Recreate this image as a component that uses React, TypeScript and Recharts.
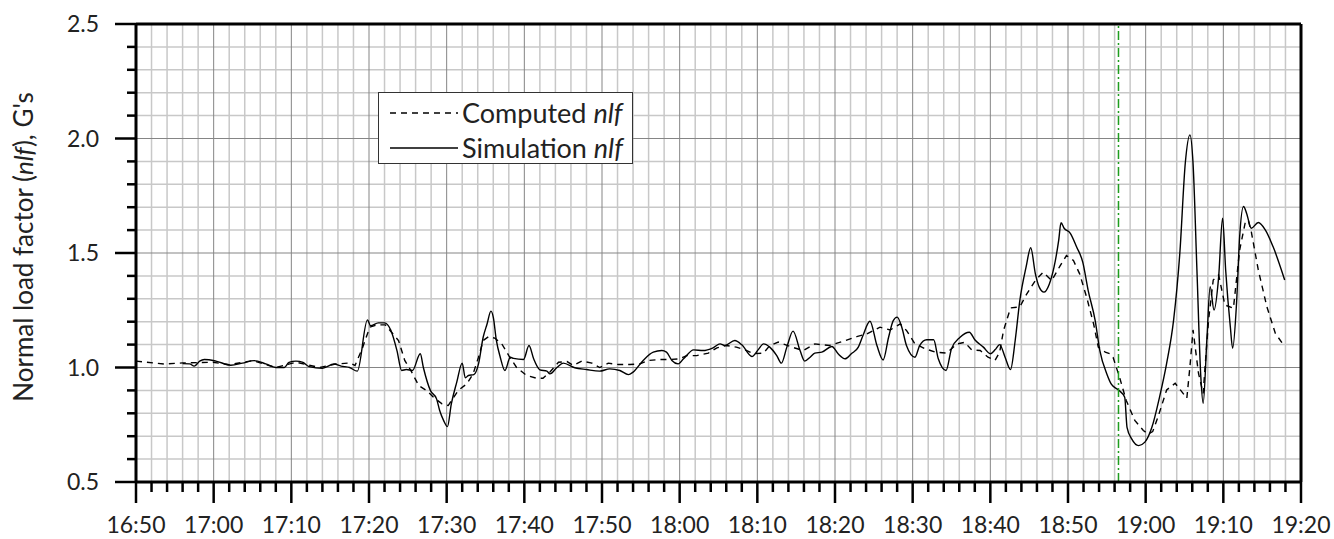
import React from 'react';
import { LineChart, Line, XAxis, YAxis, ReferenceLine, Legend } from 'recharts';

// time is minutes after 16:50
const computedTime = [
  0, 3.6, 6, 9.9, 12, 15, 18, 20.6, 23.6, 25.7, 27.5, 28.2, 29.1, 30.1, 31.0, 32.1, 32.9, 33.8, 34.6,
  35.5, 36.4, 37.4, 38.3, 39.4, 40.2, 40.9, 41.5, 42.6, 43.4, 44.1, 44.7, 45.4, 46.2, 47.1, 48.0, 49.0,
  50.3, 51.6, 52.4, 53.3, 54.4, 55.5, 56.3, 57.4, 58.7, 59.7, 60.8, 62.1, 63.6, 64.9, 66.0, 67.5, 68.8,
  70.0, 70.9, 72.2, 73.7, 74.8, 76.0, 77.3, 78.4, 79.5, 80.8, 81.6, 82.7, 84.2, 85.9, 87.4, 89.3, 91.1,
  92.8, 94.1, 95.8, 97.1, 98.4, 99.2, 100.3, 101.6, 102.9, 104.4, 105.7, 106.7, 107.6, 108.7, 109.7,
  110.6, 111.2, 111.7, 112.6, 113.8, 114.7, 115.8, 116.8, 117.9, 119.0, 119.8, 120.7, 121.5, 122.4,
  123.3, 123.9, 124.8, 125.4, 125.8, 126.7, 127.5, 128.6, 129.7, 130.3, 130.9, 131.6, 132.7, 133.8,
  135.3, 135.7, 136.1, 136.8, 137.4, 138.1, 138.7, 139.4, 140.2, 141.3, 142.1, 142.8, 143.2, 143.6,
  144.5, 145.6, 146.7, 147.6,
];
const computedNlf = [
  1.028, 1.015, 1.02, 1.023, 1.012, 1.03, 1.0, 1.023, 1.0, 1.015, 1.02, 1.009, 1.08, 1.176, 1.186,
  1.186, 1.154, 1.118, 1.031, 0.98, 0.921, 0.9, 0.87, 0.841, 0.834, 0.87, 0.9, 0.929, 0.972, 1.045,
  1.118, 1.135, 1.128, 1.103, 1.052, 1.0, 0.965, 0.953, 0.953, 0.98, 1.023, 1.026, 1.009, 1.028, 1.019,
  1.0, 1.019, 1.013, 1.013, 1.016, 1.031, 1.035, 1.035, 1.038, 1.052, 1.052, 1.063, 1.086, 1.096, 1.089,
  1.077, 1.06, 1.063, 1.096, 1.111, 1.092, 1.074, 1.103, 1.096, 1.115, 1.135, 1.147, 1.176, 1.164, 1.19,
  1.162, 1.103, 1.082, 1.067, 1.063, 1.103, 1.11, 1.077, 1.074, 1.045, 1.031, 1.067, 1.162, 1.26, 1.265,
  1.322, 1.38, 1.416, 1.38, 1.445, 1.489, 1.467, 1.409, 1.307, 1.19, 1.089, 1.067, 1.06, 1.045, 0.95,
  0.856, 0.769, 0.725, 0.71, 0.72, 0.785, 0.902, 0.931, 0.866, 1.004, 1.164, 0.975, 0.887, 1.208, 1.382,
  1.404, 1.273, 1.259, 1.513, 1.63, 1.644, 1.593, 1.426, 1.266, 1.149, 1.106,
];

const simulationTime = [
  6.0, 6.9, 7.5, 8.2, 8.8, 10.3, 12.2, 13.7, 15.2, 16.7, 18.0, 19.1, 19.7, 20.6, 21.5, 22.3, 24.0, 25.5,
  26.4, 27.5, 28.5, 29.8, 30.2, 31.2, 32.0, 32.8, 33.6, 34.2, 34.8, 35.6, 36.6, 37.0, 37.9, 38.7, 39.1,
  39.6, 40.1, 40.6, 41.3, 42.0, 42.4, 42.8, 43.5, 44.1, 44.7, 45.2, 45.7, 46.0, 46.4, 46.9, 47.5, 48.2,
  48.6, 49.9, 50.6, 51.2, 52.0, 52.9, 53.3, 54.2, 55.0, 56.5, 58.0, 59.7, 61.0, 62.3, 63.4, 64.0, 65.3,
  66.6, 67.7, 68.3, 69.0, 69.8, 70.5, 71.8, 73.0, 74.3, 75.2, 75.8, 77.1, 78.0, 79.3, 80.1, 80.8, 81.6,
  82.5, 83.1, 83.8, 84.6, 85.5, 86.1, 86.8, 87.4, 88.3, 89.6, 90.4, 91.3, 92.1, 93.0, 93.6, 94.5, 95.4,
  96.2, 96.9, 97.5, 98.0, 98.6, 99.2, 100.3, 100.9, 101.8, 102.7, 103.3, 104.3, 105.0, 106.1, 107.3,
  108.0, 109.1, 110.0, 110.6, 111.2, 111.9, 112.6, 113.2, 113.8, 114.6, 115.2, 115.8, 116.3, 116.9,
  117.6, 118.2, 118.8, 119.1, 119.5, 120.3, 121.1, 121.9, 122.6, 123.5, 124.1, 125.0, 125.6, 126.5,
  127.3, 127.6, 128.2, 129.1, 129.9, 130.8, 131.8, 132.7, 133.6, 134.4, 135.1, 135.7, 136.1, 136.6,
  137.1, 137.4, 137.9, 138.3, 138.8, 139.4, 139.9, 140.3, 140.9, 141.2, 141.7, 142.1, 142.6, 143.0,
  143.6, 144.5, 145.4, 146.4, 147.9,
];
const simulationNlf = [
  1.017, 1.016, 1.006, 1.028, 1.035, 1.028, 1.01, 1.019, 1.03, 1.016, 1.0, 1.0, 1.022, 1.028, 1.022,
  1.004, 0.997, 1.015, 1.006, 1.0, 0.984, 1.208, 1.182, 1.195, 1.195, 1.164, 1.074, 0.987, 0.991, 0.987,
  1.06, 1.0, 0.9, 0.863, 0.812, 0.769, 0.742, 0.841, 0.936, 1.019, 0.955, 0.965, 0.969, 1.016, 1.132,
  1.19, 1.246, 1.22, 1.118, 1.045, 0.987, 1.045, 1.04, 1.035, 1.096, 1.038, 0.99, 0.984, 0.972, 1.0,
  1.019, 0.999, 0.991, 0.984, 0.994, 0.987, 0.969, 0.98, 1.031, 1.067, 1.074, 1.067, 1.031, 1.016,
  1.038, 1.077, 1.074, 1.086, 1.103, 1.096, 1.118, 1.099, 1.048, 1.077, 1.103, 1.089, 1.052, 1.019,
  1.089, 1.159, 1.074, 1.028, 1.045, 1.063, 1.067, 1.092, 1.06, 1.038, 1.06, 1.089, 1.14, 1.202, 1.096,
  1.033, 1.132, 1.205, 1.22, 1.176, 1.096, 1.045, 1.096, 1.121, 1.121, 1.038, 0.987, 1.082, 1.132,
  1.154, 1.121, 1.089, 1.06, 1.077, 1.1, 1.045, 0.991, 1.118, 1.293, 1.438, 1.523, 1.409, 1.351, 1.329,
  1.365, 1.438, 1.555, 1.632, 1.608, 1.586, 1.527, 1.46, 1.336, 1.205, 1.074, 0.972, 0.926, 0.902, 0.87,
  0.739, 0.688, 0.659, 0.674, 0.739, 0.873, 1.018, 1.208, 1.5, 1.892, 2.016, 1.892, 1.426, 0.96, 0.844,
  1.135, 1.353, 1.251, 1.397, 1.652, 1.426, 1.178, 1.084, 1.28, 1.571, 1.703, 1.673, 1.608, 1.633,
  1.601, 1.528, 1.382,
];

const timeLabels = [
  '16:50', '17:00', '17:10', '17:20', '17:30', '17:40', '17:50', '18:00',
  '18:10', '18:20', '18:30', '18:40', '18:50', '19:00', '19:10', '19:20',
];
const loadLabels = [0.5, 1.0, 1.5, 2.0, 2.5];
const eventMinute = 126.5; // 18:56:30

const computedData = computedTime.map((t, i) => ({ t, nlf: computedNlf[i] }));
const simulationData = simulationTime.map((t, i) => ({ t, nlf: simulationNlf[i] }));

// grid: 2 minute / 0.1 G minor steps
const xSteps = Array.from({ length: 76 }, (_, i) => i * 2);
const ySteps = Array.from({ length: 21 }, (_, i) => Math.round((0.5 + i * 0.1) * 10) / 10);
const isMajorX = (v: number) => v % 10 === 0;
const isMajorY = (v: number) => loadLabels.some((l) => Math.abs(l - v) < 1e-6);

const FONT = 'Lato, "Open Sans", sans-serif';

const TimeTick = (props: any) => {
  const { x, y, payload } = props;
  const major = isMajorX(payload.value);
  return (
    <g>
      <line x1={x} y1={y} x2={x} y2={y + (major ? 21 : 10)} stroke="#000" strokeWidth={2.5} />
      {major && (
        <text x={x} y={y + 51} textAnchor="middle" fontSize={23} fill="#222" fontFamily={FONT}>
          {timeLabels[payload.value / 10]}
        </text>
      )}
    </g>
  );
};

const LoadTick = (props: any) => {
  const { x, y, payload } = props;
  const major = isMajorY(payload.value);
  return (
    <g>
      <line x1={x} y1={y} x2={x - (major ? 21 : 9)} y2={y} stroke="#000" strokeWidth={2.5} />
      {major && (
        <text x={x - 37} y={y} dy="0.36em" textAnchor="end" fontSize={23} fill="#222" fontFamily={FONT}>
          {payload.value.toFixed(1)}
        </text>
      )}
    </g>
  );
};

const AxisTitle = (props: any) => {
  const { viewBox } = props;
  const cx = viewBox.x - 33;
  const cy = viewBox.y + viewBox.height / 2 - 6;
  return (
    <text
      x={cx}
      y={cy}
      transform={`rotate(-90 ${cx} ${cy})`}
      textAnchor="middle"
      dominantBaseline="central"
      fontSize={26}
      fill="#222"
      fontFamily={FONT}
    >
      Normal load factor (<tspan fontStyle="italic">nlf</tspan>), G's
    </text>
  );
};

const LegendBox = (props: any) => {
  const { payload = [] } = props;
  return (
    <div
      style={{
        boxSizing: 'border-box',
        width: 255,
        height: 72,
        border: '1.5px solid #333',
        background: '#fff',
        padding: '2px 0 0 11px',
        fontFamily: FONT,
        fontSize: 27,
        color: '#222',
      }}
    >
      {payload.map((entry: any) => {
        const words = String(entry.value).split(' ');
        return (
          <div key={entry.value} style={{ display: 'flex', alignItems: 'center', height: 35 }}>
            <svg width={68} height={10} style={{ flex: 'none' }}>
              <line
                x1={0}
                y1={5}
                x2={68}
                y2={5}
                stroke="#000"
                strokeWidth={1.4}
                strokeDasharray={entry.payload?.strokeDasharray}
              />
            </svg>
            <span style={{ marginLeft: 4, whiteSpace: 'nowrap', lineHeight: 1 }}>
              {words[0]} <i>{words[1]}</i>
            </span>
          </div>
        );
      })}
    </div>
  );
};

export default function App() {
  return (
    <div style={{ position: 'absolute', left: 0, top: 0, background: '#fff' }}>
      <LineChart width={1334} height={539} margin={{ top: 24, right: 33, left: 56, bottom: 7 }}>
        <XAxis
          dataKey="t"
          type="number"
          domain={[0, 150]}
          ticks={xSteps}
          interval={0}
          tickSize={0}
          tickMargin={0}
          tickLine={false}
          height={50}
          axisLine={{ stroke: '#000', strokeWidth: 3 }}
          tick={<TimeTick />}
          allowDataOverflow
        />
        <YAxis
          type="number"
          domain={[0.5, 2.5]}
          ticks={ySteps}
          interval={0}
          tickSize={0}
          tickMargin={0}
          tickLine={false}
          width={80}
          axisLine={{ stroke: '#000', strokeWidth: 3 }}
          tick={<LoadTick />}
          label={<AxisTitle />}
          allowDataOverflow
        />

        {xSteps.filter((v) => !isMajorX(v)).map((v) => (
          <ReferenceLine key={`mx${v}`} x={v} stroke="#c8c8c8" strokeWidth={1.5} />
        ))}
        {ySteps.filter((v) => !isMajorY(v)).map((v) => (
          <ReferenceLine key={`my${v}`} y={v} stroke="#c8c8c8" strokeWidth={1.5} />
        ))}
        {xSteps.filter(isMajorX).map((v) => (
          <ReferenceLine key={`Mx${v}`} x={v} stroke="#858585" strokeWidth={1} />
        ))}
        {ySteps.filter(isMajorY).map((v) => (
          <ReferenceLine key={`My${v}`} y={v} stroke="#858585" strokeWidth={1} />
        ))}

        <Line
          data={computedData}
          dataKey="nlf"
          name="Computed nlf"
          type="linear"
          stroke="#000"
          strokeWidth={1.4}
          strokeDasharray="6 5"
          dot={false}
          isAnimationActive={false}
        />
        <Line
          data={simulationData}
          dataKey="nlf"
          name="Simulation nlf"
          type="monotone"
          stroke="#000"
          strokeWidth={1.4}
          dot={false}
          isAnimationActive={false}
        />

        <ReferenceLine x={eventMinute} stroke="#1f9d1f" strokeWidth={1.5} strokeDasharray="9 3 2 3" />
        <ReferenceLine y={2.5} stroke="#000" strokeWidth={3} />
        <ReferenceLine x={150} stroke="#000" strokeWidth={3} />

        <Legend
          layout="horizontal"
          verticalAlign="middle"
          align="center"
          content={<LegendBox />}
          wrapperStyle={{ left: 378, top: 92, width: 255 }}
        />
      </LineChart>
    </div>
  );
}
